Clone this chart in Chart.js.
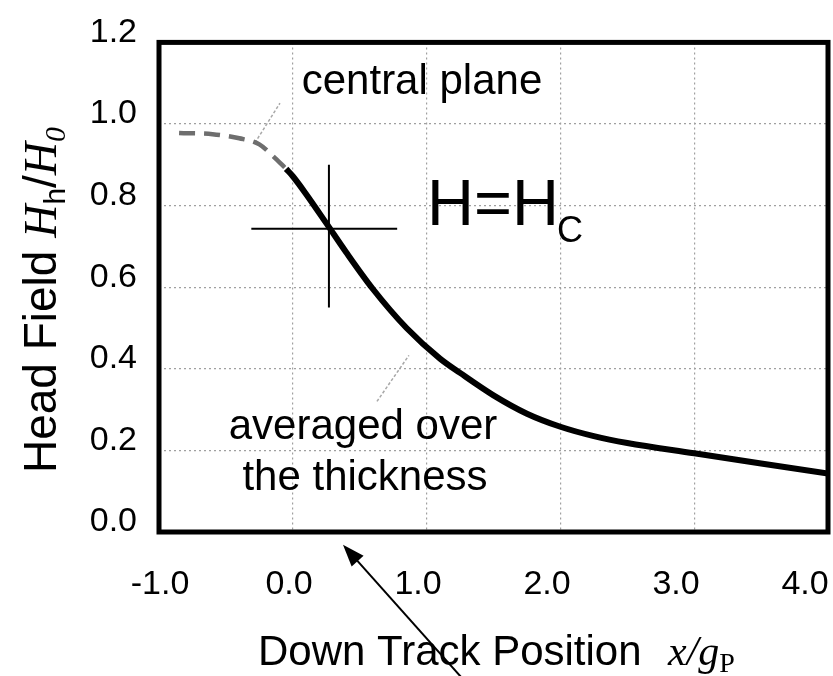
<!DOCTYPE html>
<html>
<head>
<meta charset="utf-8">
<script src="https://cdn.jsdelivr.net/npm/chart.js@4/dist/chart.umd.min.js"></script>
<style>
  html, body { margin: 0; padding: 0; background: #fff; }
  #wrap { width: 833px; height: 676px; }
</style>
</head>
<body>
<div id="wrap"><canvas id="headField"></canvas></div>
<script>
// field along the central plane (dashed grey part)
var centralX = [-0.85, -0.6, -0.4, -0.25, -0.15, -0.05]
var centralY = [0.978, 0.975, 0.965, 0.950, 0.922, 0.890]

// field averaged over the thickness (solid black)
var averagedX = [-0.05, 0.0, 0.1, 0.25, 0.4, 0.6, 0.85, 1.1, 1.25, 1.5, 1.75, 2.0, 2.25, 2.5, 3.0, 3.5, 4.0]
var averagedY = [0.890, 0.872, 0.828, 0.757, 0.685, 0.595, 0.500, 0.425, 0.390, 0.335, 0.290, 0.258, 0.235, 0.218, 0.193, 0.168, 0.143]

// H = Hc cross
var crossHX = [-0.31, 0.78]
var crossHY = [0.743, 0.743]
var crossVX = [0.27, 0.27]
var crossVY = [0.90, 0.55]

// leader lines to the labels
var leaderTopX = [-0.283, -0.096]
var leaderTopY = [0.954, 1.051]
var leaderBotX = [0.629, 0.868]
var leaderBotY = [0.320, 0.433]

// arrow under the axis (tip, tail)
var arrowX = [0.375, 1.27]
var arrowY = [-0.031, -0.36]

var xTicks = [-1, 0, 1, 2, 3, 4]
var yTicks = [0, 0.2, 0.4, 0.6, 0.8, 1.0, 1.2]

function pts(xs, ys){
    return xs.map(function(x, i){ return {x: x, y: ys[i]} })
}

var SANS = "'Liberation Sans', Arial, sans-serif"
var SERIF = "'Liberation Serif', 'Times New Roman', serif"

Chart.defaults.font.family = SANS;
Chart.defaults.color = 'black';

// frame, labels, arrow and axis titles
var decorations = {
    id: 'decorations',
    afterDraw: function(chart){
        var ctx = chart.ctx
        var a = chart.chartArea
        var xs = chart.scales.x, ys = chart.scales.y
        ctx.save()

        // thick frame
        ctx.strokeStyle = 'black'
        ctx.lineWidth = 5
        ctx.strokeRect(a.left, a.top, a.right - a.left, a.bottom - a.top)

        // text labels
        ctx.fillStyle = 'black'
        ctx.textBaseline = 'alphabetic'
        ctx.font = '42px ' + SANS
        ctx.textAlign = 'center'
        ctx.fillText('central plane', 422, 94)
        ctx.fillText('averaged over', 363, 439)
        ctx.fillText('the thickness', 365, 490)

        ctx.textAlign = 'left'
        ctx.font = '65px ' + SANS
        ctx.fillText('H=H', 427, 225)
        ctx.font = '36px ' + SANS
        ctx.fillText('C', 557, 242)

        // arrow
        var x1 = xs.getPixelForValue(arrowX[0]), y1 = ys.getPixelForValue(arrowY[0])
        var x2 = xs.getPixelForValue(arrowX[1]), y2 = ys.getPixelForValue(arrowY[1])
        var ang = Math.atan2(y1 - y2, x1 - x2)
        ctx.strokeStyle = 'black'
        ctx.lineWidth = 2
        ctx.beginPath()
        ctx.moveTo(x2, y2)
        ctx.lineTo(x1 - 14 * Math.cos(ang), y1 - 14 * Math.sin(ang))
        ctx.stroke()
        ctx.beginPath()
        ctx.moveTo(x1, y1)
        ctx.lineTo(x1 - 22 * Math.cos(ang) + 8 * Math.sin(ang), y1 - 22 * Math.sin(ang) - 8 * Math.cos(ang))
        ctx.lineTo(x1 - 22 * Math.cos(ang) - 8 * Math.sin(ang), y1 - 22 * Math.sin(ang) + 8 * Math.cos(ang))
        ctx.closePath()
        ctx.fill()

        // x axis title
        ctx.textAlign = 'left'
        ctx.font = '42px ' + SANS
        ctx.fillText('Down Track Position', 258, 665)
        ctx.font = 'italic 42px ' + SERIF
        ctx.fillText('x/g', 668, 665)
        var w = ctx.measureText('x/g').width
        ctx.font = '28px ' + SERIF
        ctx.fillText('P', 668 + w, 672)

        // y axis title (rotated)
        var parts = [
            {t: 'Head Field ', f: '46px ' + SANS, dy: 0},
            {t: 'H', f: 'italic 46px ' + SERIF, dy: 0},
            {t: 'h', f: '30px ' + SANS, dy: 9},
            {t: '/', f: '46px ' + SANS, dy: 0},
            {t: 'H', f: 'italic 46px ' + SERIF, dy: 0},
            {t: '0', f: 'italic 30px ' + SERIF, dy: 9}
        ]
        var total = 0
        parts.forEach(function(p){ ctx.font = p.f; p.w = ctx.measureText(p.t).width; total += p.w })
        ctx.translate(56, 300)
        ctx.rotate(-Math.PI / 2)
        var cx = -total / 2
        parts.forEach(function(p){
            ctx.font = p.f
            ctx.fillText(p.t, cx, p.dy)
            cx += p.w
        })
        ctx.restore()
    }
}

var grid = {
    color: '#a0a0a0',
    lineWidth: 1.2,
    drawTicks: false
}

new Chart(document.getElementById('headField').getContext('2d'), {
    type: 'line',
    data: {
        datasets: [{
            label: 'central plane',
            data: pts(centralX, centralY),
            borderColor: '#6e6e6e',
            borderWidth: 4.5,
            borderDash: [16, 9],
            cubicInterpolationMode: 'monotone',
            pointRadius: 0
        }, {
            label: 'averaged over the thickness',
            data: pts(averagedX, averagedY),
            borderColor: '#000',
            borderWidth: 6,
            cubicInterpolationMode: 'monotone',
            pointRadius: 0
        }, {
            data: pts(crossHX, crossHY),
            borderColor: '#000',
            borderWidth: 2,
            pointRadius: 0
        }, {
            data: pts(crossVX, crossVY),
            borderColor: '#000',
            borderWidth: 2,
            pointRadius: 0
        }, {
            data: pts(leaderTopX, leaderTopY),
            borderColor: '#a8a8a8',
            borderWidth: 1.5,
            borderDash: [3, 2],
            pointRadius: 0
        }, {
            data: pts(leaderBotX, leaderBotY),
            borderColor: '#a8a8a8',
            borderWidth: 1.5,
            borderDash: [3, 2],
            pointRadius: 0
        }]
    },
    options: {
        responsive: true,
        maintainAspectRatio: false,
        animation: false,
        layout: {
            padding: {left: 0, right: 5, top: 36, bottom: 0}
        },
        plugins: {
            legend: {display: false},
            tooltip: {enabled: false}
        },
        scales: {
            // data axis: dotted grid only
            x: {
                type: 'linear',
                min: -1,
                max: 4,
                afterBuildTicks: function(scale){ scale.ticks = xTicks.map(function(v){ return {value: v} }) },
                ticks: {display: false},
                grid: grid,
                border: {display: false, dash: [2, 3]},
                afterFit: function(scale){
                    scale.height = 0
                    scale.paddingLeft = 0
                    scale.paddingRight = 0
                }
            },
            // label axis: tick labels in the original are spaced a bit tighter than the grid
            xLabels: {
                type: 'linear',
                position: 'bottom',
                min: -1.008,
                max: 4.178,
                afterBuildTicks: function(scale){ scale.ticks = xTicks.map(function(v){ return {value: v} }) },
                ticks: {
                    font: {size: 34},
                    padding: 32,
                    maxRotation: 0,
                    callback: function(v){ return v.toFixed(1) }
                },
                grid: {display: false, drawTicks: false},
                border: {display: false},
                afterFit: function(scale){
                    scale.height = 144
                    scale.paddingLeft = 0
                    scale.paddingRight = 0
                }
            },
            y: {
                type: 'linear',
                min: 0,
                max: 1.2,
                afterBuildTicks: function(scale){ scale.ticks = yTicks.map(function(v){ return {value: v} }) },
                ticks: {
                    font: {size: 34},
                    padding: 22,
                    labelOffset: -10,
                    callback: function(v){ return v.toFixed(1) }
                },
                grid: grid,
                border: {display: false, dash: [2, 3]},
                afterFit: function(scale){
                    scale.width = 159
                }
            }
        }
    },
    plugins: [decorations]
})
</script>
</body>
</html>
